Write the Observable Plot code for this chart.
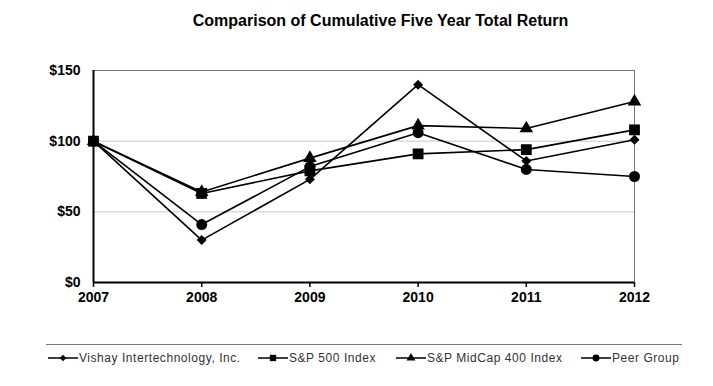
<!DOCTYPE html>
<html>
<head>
<meta charset="utf-8">
<script src="https://cdn.jsdelivr.net/npm/d3@7"></script>
<script src="https://cdn.jsdelivr.net/npm/@observablehq/plot@0.6"></script>
<style>
  html, body { margin: 0; padding: 0; background: #fff; }
  #wrap { position: relative; width: 713px; height: 386px; overflow: hidden; font-family: "Liberation Sans", Arial, sans-serif; }
  #title { position: absolute; left: 0; width: 761px; top: 12px; text-align: center; font-weight: bold; font-size: 16px; color: #000; }
  #chart { position: absolute; left: 0; top: 50px; }
  #legline { position: absolute; left: 46px; width: 636px; top: 344px; border-top: 1px solid #7a7a7a; }
  .leg { position: absolute; top: 350px; height: 16px; display: flex; align-items: center; font-size: 12px; color: #333; letter-spacing: 0.55px; white-space: nowrap; }
  .leg svg { margin-right: 1px; }
</style>
</head>
<body>
<div id="wrap">
  <div id="title">Comparison of Cumulative Five Year Total Return</div>
  <div id="chart"></div>
  <div id="legline"></div>
</div>
<script>
const years = [2007, 2008, 2009, 2010, 2011, 2012];
const seriesNames = ["Vishay Intertechnology, Inc.", "S&P 500 Index", "S&P MidCap 400 Index", "Peer Group"];
const vishay = [100, 30, 73, 140, 86, 101];
const sp500  = [100, 63, 79, 91, 94, 108];
const midcap = [100, 64, 88, 111, 109, 128];
const peer   = [100, 41, 82, 106, 80, 75];
const yTicks = [0, 50, 100, 150];

const seriesValues = [vishay, sp500, midcap, peer];
const symbols = ["diamond2", "square", "triangle", "circle"];
const radii = [4.5, 6.1, 5.0, 5.5];

const data = seriesNames.flatMap((name, i) =>
  years.map((year, j) => ({series: name, year, value: seriesValues[i][j]}))
);

const chart = Plot.plot({
  width: 713,
  height: 265,
  marginLeft: 93,
  marginRight: 79,
  marginTop: 20,
  marginBottom: 33,
  style: {fontFamily: "Liberation Sans, Arial, sans-serif", background: "white", color: "black"},
  x: {domain: [2007, 2012], axis: null, label: null},
  y: {domain: [0, 150], axis: null, label: null},
  marks: [
    Plot.ruleY([50, 100], {stroke: "#c8c8c8", strokeWidth: 1}),
    Plot.ruleY([150], {stroke: "#777", strokeWidth: 1}),
    Plot.ruleX([2012], {stroke: "#777", strokeWidth: 1}),
    Plot.axisX({ticks: years, tickFormat: d => String(d), tickSize: 5, tickPadding: 5, fontSize: 14, fontWeight: "bold", stroke: "black", strokeWidth: 1.5, label: null}),
    Plot.axisY({ticks: yTicks, tickFormat: d => "$" + d, tickSize: 0, tickPadding: 13, fontSize: 14, fontWeight: "bold", label: null}),
    Plot.ruleX([2007], {stroke: "black", strokeWidth: 2}),
    Plot.ruleY([0], {stroke: "black", strokeWidth: 2}),
    Plot.line(data, {x: "year", y: "value", z: "series", stroke: "black", strokeWidth: 1.6}),
    ...seriesNames.map((name, i) =>
      Plot.dot(data.filter(d => d.series === name), {x: "year", y: "value", symbol: () => symbols[i], fill: "black", stroke: "none", r: radii[i]})
    )
  ]
});
document.getElementById("chart").appendChild(chart);

// Legend (HTML, real text)
const legX = [48, 258, 396, 581];
const legSym = [d3.symbolDiamond2, d3.symbolSquare, d3.symbolTriangle, d3.symbolCircle];
const legSize = [26, 40, 34, 38];
const wrap = document.getElementById("wrap");
seriesNames.forEach((name, i) => {
  const item = document.createElement("div");
  item.className = "leg";
  item.style.left = legX[i] + "px";
  const svg = d3.create("svg").attr("width", 30).attr("height", 14);
  svg.append("line").attr("x1", 0).attr("x2", 30).attr("y1", 7).attr("y2", 7).attr("stroke", "black").attr("stroke-width", 1.5);
  svg.append("path").attr("d", d3.symbol(legSym[i], legSize[i])()).attr("transform", "translate(15,7)").attr("fill", "black");
  item.appendChild(svg.node());
  const span = document.createElement("span");
  span.textContent = name;
  item.appendChild(span);
  wrap.appendChild(item);
});
</script>
</body>
</html>
